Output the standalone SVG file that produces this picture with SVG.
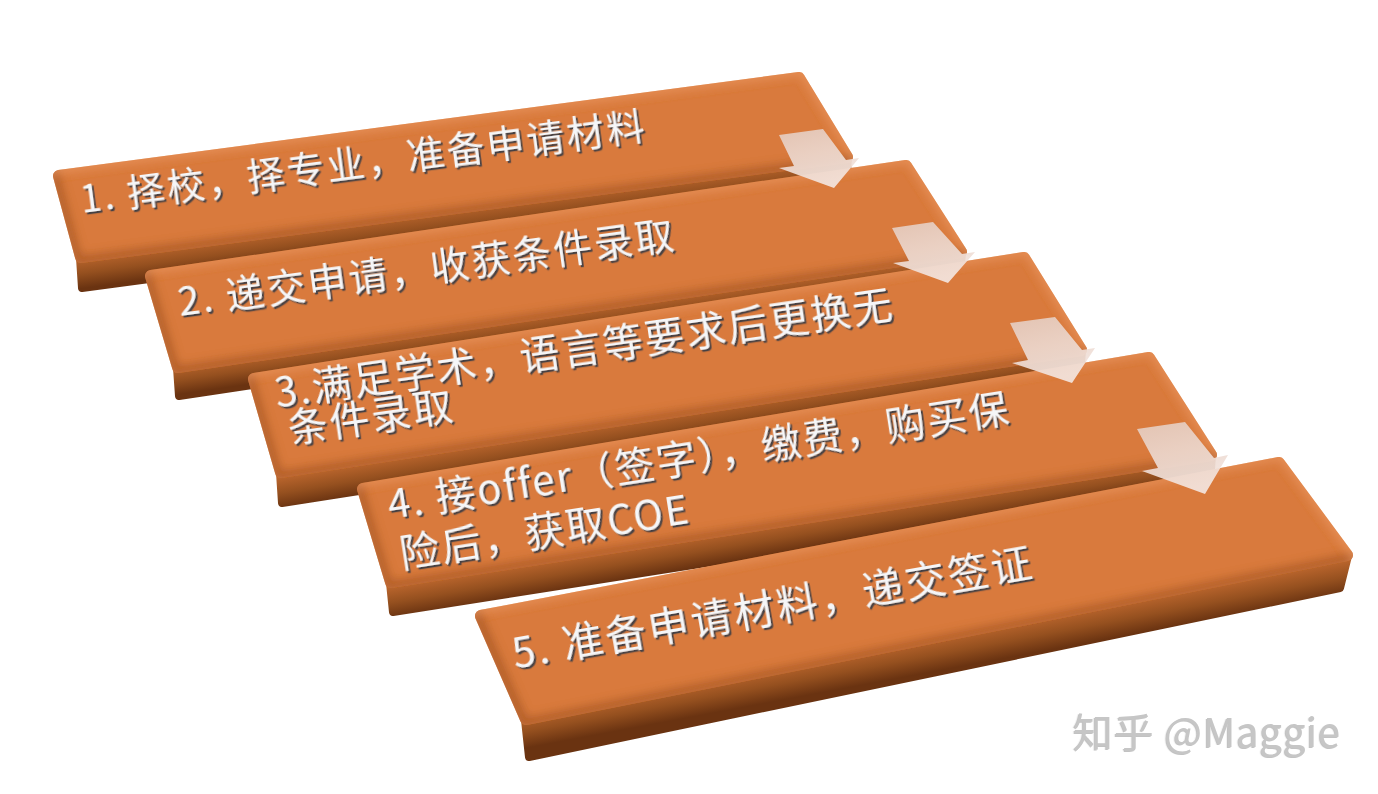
<svg xmlns="http://www.w3.org/2000/svg" width="1378" height="794" viewBox="0 0 1378 794">
<defs>
<style>
.top{fill:#d97a3c;stroke:#d97a3c;stroke-width:12;stroke-linejoin:round;filter:url(#bevel)}
.side{stroke-width:8;stroke-linejoin:round}
.lbl{font-family:"Noto Sans CJK SC","Noto Sans",sans-serif;fill:#f5f6f8;filter:url(#ts)}
.t1{font-size:38px;letter-spacing:2.3px}
.t2{font-size:39px;letter-spacing:2.3px}
.t3{font-size:40px;letter-spacing:2px}
.t4{font-size:40px;letter-spacing:2px}
.t5{font-size:41px;letter-spacing:2.5px}
.arrow{fill:url(#ag);opacity:.92}
.wm{font-family:"Noto Sans CJK SC","Noto Sans",sans-serif;font-size:40px;letter-spacing:0.8px;fill:#c6c6c6;filter:url(#ws)}
</style>
<filter id="bevel" x="-5%" y="-15%" width="110%" height="130%">
<feGaussianBlur in="SourceAlpha" stdDeviation="4" result="b"/>
<feOffset in="b" dx="5" dy="-9" result="o1"/>
<feComposite in="SourceAlpha" in2="o1" operator="out" result="sh"/>
<feFlood flood-color="#8a4014" flood-opacity="0.5"/>
<feComposite in2="sh" operator="in" result="shadow"/>
<feOffset in="b" dx="-2" dy="4" result="o2"/>
<feComposite in="SourceAlpha" in2="o2" operator="out" result="hl"/>
<feFlood flood-color="#f2a068" flood-opacity="0.45"/>
<feComposite in2="hl" operator="in" result="highlight"/>
<feMerge><feMergeNode in="SourceGraphic"/><feMergeNode in="shadow"/><feMergeNode in="highlight"/></feMerge>
</filter>
<filter id="ts" x="-5%" y="-30%" width="110%" height="160%">
<feDropShadow dx="1.8" dy="2.2" stdDeviation="0.7" flood-color="#2a3644" flood-opacity="0.85"/>
</filter>
<filter id="ws" x="-5%" y="-30%" width="110%" height="160%">
<feDropShadow dx="-1.2" dy="1" stdDeviation="0.4" flood-color="#9a9a9a" flood-opacity="0.6"/>
</filter>
<linearGradient id="s1" gradientUnits="userSpaceOnUse" x1="464" y1="207" x2="468" y2="237"><stop offset="0" stop-color="#b8642c"/><stop offset="0.5" stop-color="#95501f"/><stop offset="1" stop-color="#6a3311"/></linearGradient>
<linearGradient id="s2" gradientUnits="userSpaceOnUse" x1="569" y1="310" x2="573" y2="338"><stop offset="0" stop-color="#b8642c"/><stop offset="0.5" stop-color="#95501f"/><stop offset="1" stop-color="#6a3311"/></linearGradient>
<linearGradient id="s3" gradientUnits="userSpaceOnUse" x1="681" y1="411" x2="686" y2="441"><stop offset="0" stop-color="#b8642c"/><stop offset="0.5" stop-color="#95501f"/><stop offset="1" stop-color="#6a3311"/></linearGradient>
<linearGradient id="s4" gradientUnits="userSpaceOnUse" x1="801" y1="519" x2="806" y2="549"><stop offset="0" stop-color="#b8642c"/><stop offset="0.5" stop-color="#95501f"/><stop offset="1" stop-color="#6a3311"/></linearGradient>
<linearGradient id="s5" gradientUnits="userSpaceOnUse" x1="936" y1="638" x2="942" y2="670"><stop offset="0" stop-color="#b8642c"/><stop offset="0.5" stop-color="#95501f"/><stop offset="1" stop-color="#6a3311"/></linearGradient>
<linearGradient id="ag" x1="0" y1="0" x2="0.3" y2="1"><stop offset="0" stop-color="#e4cabd"/><stop offset="1" stop-color="#f3e5df"/></linearGradient>
</defs>
<rect width="1378" height="794" fill="#ffffff"/>

<g id="step1">
<polygon class="side" fill="url(#s1)" stroke="url(#s1)" points="80,258 848,157 846,186 82,288"/>
<polygon class="top" points="59,176 799,78 847,157 81,257"/>
<text class="lbl t1" transform="translate(82,213) rotate(-7.5)">1. 择校，择专业，准备申请材料</text>
</g>

<g id="step2">
<polygon class="side" fill="url(#s2)" stroke="url(#s2)" points="177,368 962,252 960,280 179,396"/>
<polygon class="top" points="151,276 906,166 961,252 178,367"/>
<text class="lbl t2" transform="translate(180,316) rotate(-7.8)">2. 递交申请，收获条件录取</text>
</g>

<g id="step3">
<polygon class="side" fill="url(#s3)" stroke="url(#s3)" points="280,473 1082,350 1080,379 282,503"/>
<polygon class="top" points="254,379 1024,258 1081,350 281,472"/>
<text class="lbl t3" transform="translate(277,407) rotate(-8.2)">3.满足学术，语言等要求后更换无</text>
<text class="lbl t3" transform="translate(290,443) rotate(-8.2)">条件录取</text>
</g>

<g id="step4">
<polygon class="side" fill="url(#s4)" stroke="url(#s4)" points="390,583 1212,455 1210,484 393,612"/>
<polygon class="top" points="363,489 1149,358 1211,455 391,582"/>
<text class="lbl t4" transform="translate(390,519) rotate(-8.9)">4. 接offer（签字），缴费，购买保</text>
<text class="lbl t4" transform="translate(402,568) rotate(-8.9)">险后，获取COE</text>
</g>

<g id="step5">
<polygon class="side" fill="url(#s5)" stroke="url(#s5)" points="525,720 1348,556 1340,588 529,757"/>
<polygon class="top" points="481,616 1279,463 1347,555 526,719"/>
<text class="lbl t5" transform="translate(515,668) rotate(-10)">5. 准备申请材料，递交签证</text>
</g>

<g id="connectors">
<polygon class="arrow" points="779,135 823,129 846,160 859,158 834,188 779,168 794,166"/>
<polygon class="arrow" points="892,228 933,222 962,254 975,252 948,283 893,263 909,261"/>
<polygon class="arrow" points="1010,323 1055,317 1082,350 1095,348 1072,383 1012,363 1028,360"/>
<polygon class="arrow" points="1137,429 1185,422 1214,458 1228,455 1205,494 1142,471 1158,468"/>
</g>

<text class="wm" x="1073" y="747">知乎 @Maggie</text>
</svg>
